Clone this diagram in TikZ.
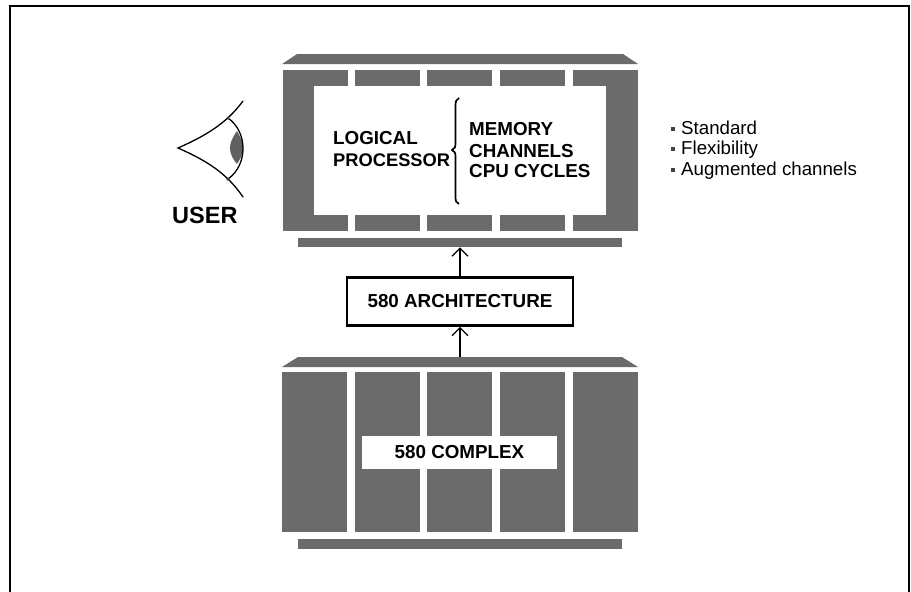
\documentclass[tikz,border=0pt]{standalone}
\usepackage{fontspec}
\setmainfont{Liberation Sans}
\usetikzlibrary{arrows.meta}

\begin{document}
\begin{tikzpicture}[x=1pt,y=-1pt,>={Straight Barb[length=8pt,width=16pt]}]

  \tikzstyle{block}=[rectangle,fill=black!58,inner sep=0pt,outer sep=0pt]
  \tikzstyle{cell}=[block,minimum width=65pt,minimum height=16pt]
  \tikzstyle{tower}=[block,minimum width=65pt,minimum height=160pt]
  \tikzstyle{bar}=[block,minimum width=324pt,minimum height=9.5pt]
  \tikzstyle{roof}=[fill=black!58]
  \tikzstyle{lid}=[line width=1.3pt,line cap=round]
  \tikzstyle{heading}=[anchor=base west,inner sep=0pt,font=\fontsize{18.8}{20}\selectfont\bfseries]
  \tikzstyle{item}=[anchor=base west,inner sep=0pt,font=\fontsize{18.7}{20}\selectfont]
  \tikzstyle{tick}=[rectangle,fill=black!75,inner sep=0pt,minimum size=4pt]
  \tikzstyle{title}=[rectangle,fill=white,inner sep=0pt,font=\fontsize{18.8}{20}\selectfont\bfseries]

  \useasboundingbox (0,0) rectangle (911,592);
  \draw [line width=1.5pt] (10,592) -- (10,6) -- (909,6) -- (909,592);

  % logical processor
  \fill [roof] (297,54) -- (623,54) -- (638,64) -- (282,64) -- cycle;
  \node [block,minimum width=31pt,minimum height=161pt] (leftwall) at (298.5,150.5) {};
  \node [block,minimum width=32pt,minimum height=161pt] (rightwall) at (622,150.5) {};
  \node [cell] (top1) at (315,78) {};
  \node [cell] (top2) at (387.5,78) {};
  \node [cell] (top3) at (459.5,78) {};
  \node [cell] (top4) at (532,78) {};
  \node [cell] (top5) at (605,78) {};
  \node [cell] (low1) at (315,223) {};
  \node [cell] (low2) at (387.5,223) {};
  \node [cell] (low3) at (459.5,223) {};
  \node [cell] (low4) at (532,223) {};
  \node [cell] (low5) at (605,223) {};
  \node [bar] (topbar) at (460,242.5) {};

  \node [heading] (logical) at (333,144) {LOGICAL};
  \node [heading,font=\fontsize{18.3}{20}\selectfont\bfseries] (processor) at (333,166) {PROCESSOR};
  \node [heading] (memory) at (469,135) {MEMORY};
  \node [heading] (channels) at (469,157) {CHANNELS};
  \node [heading] (cycles) at (469,177.5) {CPU CYCLES};
  \draw [line width=1.7pt] (459,98) .. controls (456,99) and (455.5,102) .. (455.5,106)
    -- (455.5,142) .. controls (455.5,147) and (455,149) .. (452,150)
    .. controls (455,151) and (455.5,153) .. (455.5,158)
    -- (455.5,196) .. controls (455.5,201) and (456,203) .. (459,204);

  % eye
  \fill [black!62] (237,131) .. controls (232,138) and (230,143) .. (230,148)
    .. controls (230,153) and (232,158) .. (237,164)
    .. controls (241,158) and (243,153) .. (243,148)
    .. controls (243,143) and (241,138) .. (237,131) -- cycle;
  \draw [lid] (243,101) .. controls (226,124) and (205,136) .. (178,148)
    .. controls (205,160) and (226,172) .. (243,197);
  \draw [lid] (228,118) .. controls (248,132) and (248,165) .. (228,179);
  \node [tick,circle,minimum size=3.5pt] (lidup) at (228,118) {};
  \node [tick,circle,minimum size=3.5pt] (liddown) at (228,179) {};
  \node [heading,font=\fontsize{23.5}{25}\selectfont\bfseries] (user) at (172,223) {USER};

  % list
  \node [tick] (tick1) at (673,128.5) {};
  \node [tick] (tick2) at (673,149) {};
  \node [tick] (tick3) at (673,170) {};
  \node [item] (standard) at (681,134) {Standard};
  \node [item] (flexibility) at (681,154.5) {Flexibility};
  \node [item] (augmented) at (681,175.5) {Augmented channels};

  % architecture
  \node [title,draw=black,line width=2.5pt,minimum width=226pt,minimum height=48pt] (arch) at (460,301.5) {580 ARCHITECTURE};

  % complex
  \fill [roof] (298,357) -- (622,357) -- (638,367) -- (282,367) -- cycle;
  \coordinate (roofbase) at (460,357);
  \node [tower] (col1) at (314.5,452) {};
  \node [tower] (col2) at (387.5,452) {};
  \node [tower] (col3) at (459.5,452) {};
  \node [tower] (col4) at (532,452) {};
  \node [tower] (col5) at (605,452) {};
  \node [title,minimum width=195pt,minimum height=33pt] (complex) at (459.5,452.5) {580 COMPLEX};
  \node [bar] (lowbar) at (460,544) {};

  \draw [->,line width=1.3pt] (arch) -- (topbar);
  \draw [->,line width=1.3pt] (roofbase) -- (arch);

\end{tikzpicture}
\end{document}
